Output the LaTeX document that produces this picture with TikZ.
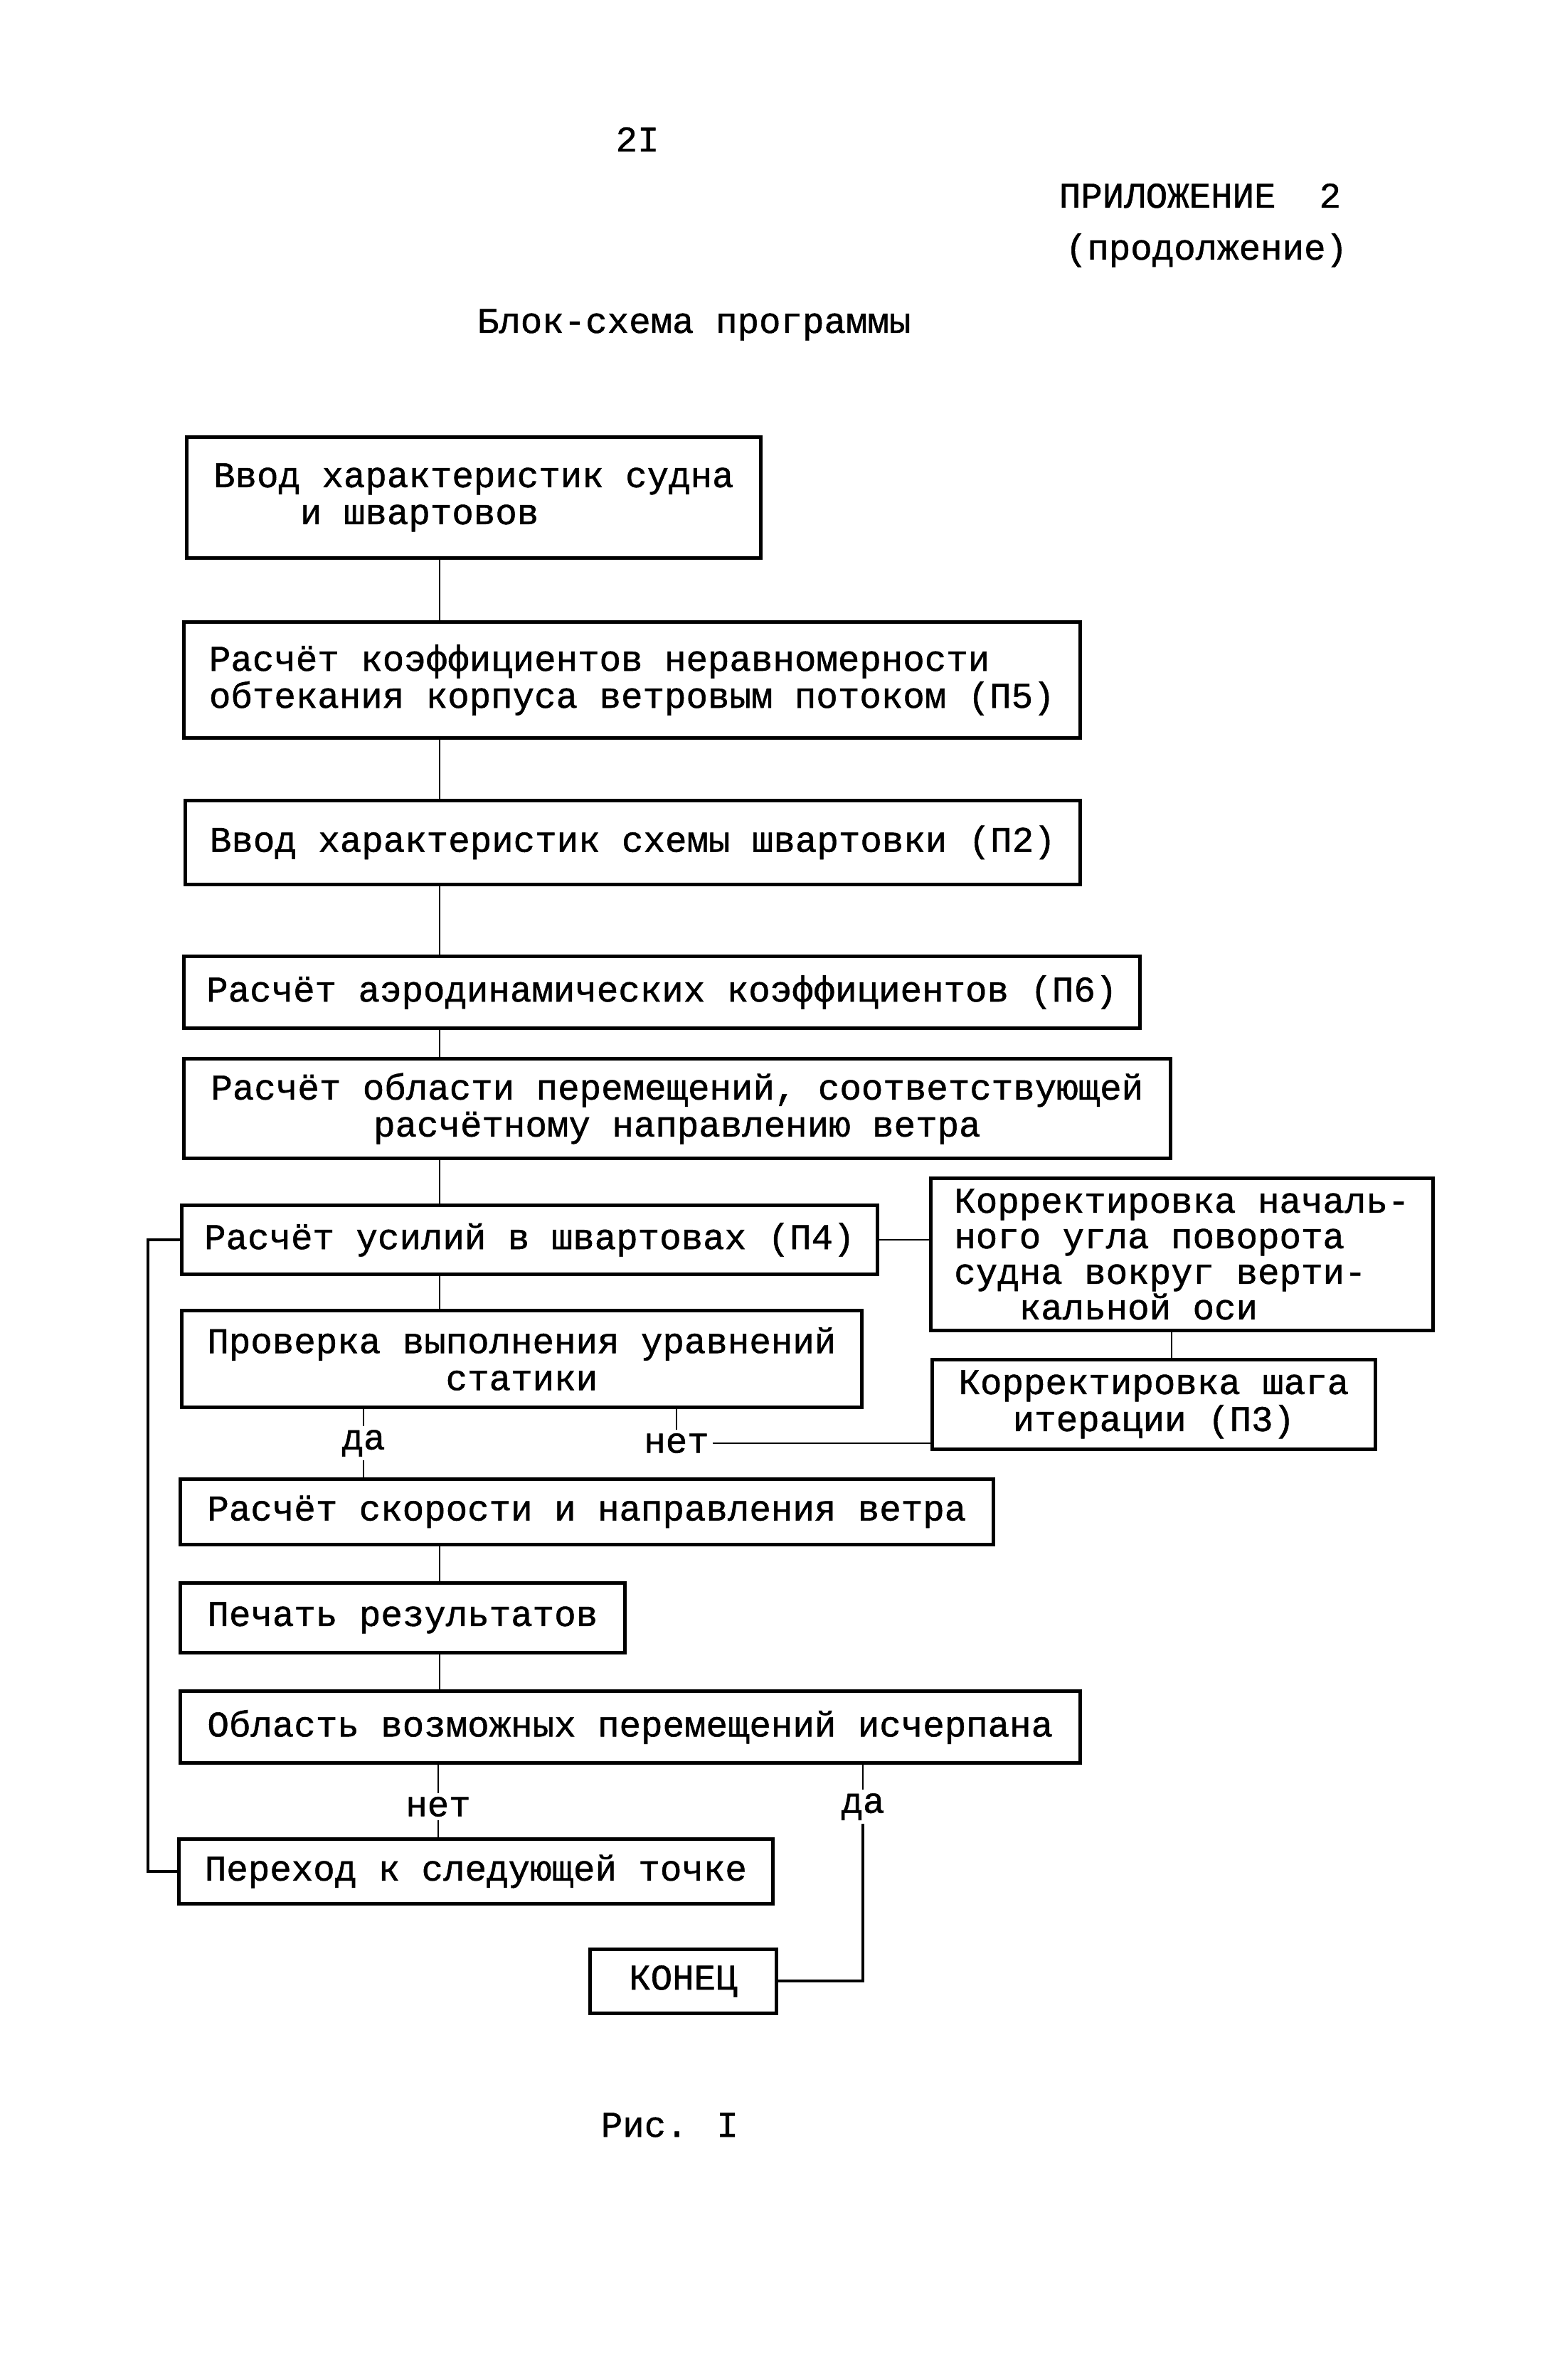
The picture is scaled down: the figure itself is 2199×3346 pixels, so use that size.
\documentclass[tikz,border=0pt]{standalone}
\usepackage{fontspec}
\newfontfamily\tw[FakeBold=1]{Liberation Mono}
\begin{document}
\begin{tikzpicture}[x=0.25pt,y=-0.25pt,
  box/.style={draw, line width=1.2pt, rectangle, inner sep=2pt, anchor=north west, align=left, font=\tw\fontsize{12.7}{13}\selectfont},
  conn/.style={line width=0.6pt},
  loopline/.style={line width=1.0pt},
  lbl/.style={inner sep=1pt, font=\tw\fontsize{12.7}{13}\selectfont},
  txt/.style={inner sep=0pt, font=\tw\fontsize{12.7}{13}\selectfont}]
\useasboundingbox[fill=white] (0,0) rectangle (2199,3346);
% headings
\node[txt, anchor=base] (pg) at (896,213) {2I};
\node[txt, anchor=base west] (app) at (1488,292) {ПРИЛОЖЕНИЕ\hspace{1.2em}2};
\node[txt, anchor=base west] (cont) at (1497,365) {(продолжение)};
\node[txt, anchor=base west] (ttl) at (670,468) {Блок-схема программы};
\node[txt, anchor=base west] (fig) at (844,3004) {Рис. I};
% boxes
\node[box, minimum width=201.75pt, minimum height=42.5pt] (b1) at (260,612) {Ввод характеристик судна\\\hspace*{2.4em}и швартовов};
\node[box, minimum width=315pt, minimum height=40.75pt] (b2) at (256,872) {Расчёт коэффициентов неравномерности\\обтекания корпуса ветровым потоком (П5)};
\node[box, minimum width=314.5pt, minimum height=29.5pt] (b3) at (258,1123) {Ввод характеристик схемы швартовки (П2)};
\node[box, minimum width=336pt, minimum height=25.25pt] (b4) at (256,1342) {Расчёт аэродинамических коэффициентов (П6)};
\node[box, align=center, minimum width=346.75pt, minimum height=35pt] (b5) at (256,1486) {Расчёт области перемещений, соответствующей\\расчётному направлению ветра};
\node[box, minimum width=244.5pt, minimum height=24.25pt] (b6) at (253,1692) {Расчёт усилий в швартовах (П4)};
\node[box, align=center, minimum width=239pt, minimum height=34pt] (b7) at (253,1840) {Проверка выполнения уравнений\\статики};
\node[box, minimum width=176.5pt, minimum height=53.5pt, font=\tw\fontsize{12.7}{12.5}\selectfont] (b8) at (1306,1654) {Корректировка началь-\\ного угла поворота\\судна вокруг верти-\\\hspace*{1.8em}кальной оси};
\node[box, align=center, minimum width=155.75pt, minimum height=31.5pt] (b9) at (1308,1909) {Корректировка шага\\итерации (П3)};
\node[box, minimum width=285.75pt, minimum height=23pt] (b10) at (251,2077) {Расчёт скорости и направления ветра};
\node[box, minimum width=156.25pt, minimum height=24.5pt] (b11) at (251,2223) {Печать результатов};
\node[box, minimum width=316.25pt, minimum height=25.25pt] (b12) at (251,2375) {Область возможных перемещений исчерпана};
\node[box, minimum width=208.75pt, minimum height=22.75pt] (b13) at (249,2583) {Переход к следующей точке};
\node[box, minimum width=65.5pt, minimum height=22.5pt] (b14) at (827,2738) {КОНЕЦ};
% labels
\node[lbl] (da1) at (511,2029) {да};
\node[lbl] (net1) at (951,2029) {нет};
\node[lbl] (net2) at (616,2540) {нет};
\node[lbl] (da2) at (1213,2540) {да};
% guide coordinates
\coordinate (tx) at (618,0);
\coordinate (rx) at (1647,0);
\coordinate (lx) at (208,0);
% connectors
\draw[conn] (b1.south -| tx) -- (b2.north -| tx);
\draw[conn] (b2.south -| tx) -- (b3.north -| tx);
\draw[conn] (b3.south -| tx) -- (b4.north -| tx);
\draw[conn] (b4.south -| tx) -- (b5.north -| tx);
\draw[conn] (b5.south -| tx) -- (b6.north -| tx);
\draw[conn] (b6.south -| tx) -- (b7.north -| tx);
\draw[conn] (b6.east) -- (b6.east -| b8.west);
\draw[conn] (b8.south -| rx) -- (b9.north -| rx);
\draw[conn] (b7.south -| da1) -- (da1.north);
\draw[conn] (da1.south) -- (b10.north -| da1);
\draw[conn] (b7.south -| net1) -- (net1.north);
\draw[conn] (net1.east) -- (net1.east -| b9.west);
\draw[conn] (b10.south -| tx) -- (b11.north -| tx);
\draw[conn] (b11.south -| tx) -- (b12.north -| tx);
\draw[conn] (b12.south -| net2) -- (net2.north);
\draw[conn] (net2.south) -- (b13.north -| net2);
\draw[conn] (b12.south -| da2) -- (da2.north);
\draw[loopline] (da2.south) |- (b14.east);
\draw[loopline] (b13.west) -- (b13.west -| lx) |- (b6.west);
\end{tikzpicture}
\end{document}
